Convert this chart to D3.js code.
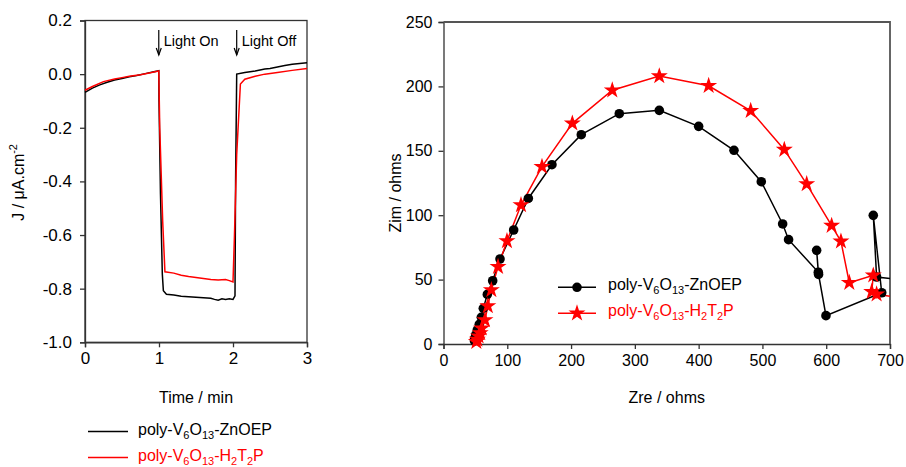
<!DOCTYPE html>
<html><head><meta charset="utf-8">
<script src="https://cdn.jsdelivr.net/npm/d3@7/dist/d3.min.js"></script>
<style>
html,body{margin:0;padding:0;background:#fff;}
svg{display:block;font-family:"Liberation Sans",Arial,sans-serif;}
</style></head>
<body>
<svg id="c" width="906" height="467"></svg>
<script>
// ---------- Left panel data (time in min, J in µA.cm-2) ----------
const timeZnOEP = [0,0.1,0.2,0.3,0.4,0.5,0.6,0.7,0.8,0.9,0.997,1.0,1.02,1.045,1.059,1.1,1.2,1.3,1.4,1.5,1.6,1.7,1.75,1.8,1.85,1.9,1.95,2.0,2.027,2.035,2.05,2.16,2.3,2.43,2.5,2.6,2.7,2.8,2.9,3.0];
const jZnOEP    = [-0.068,-0.052,-0.040,-0.030,-0.022,-0.016,-0.010,-0.005,0.001,0.007,0.013,-0.10,-0.447,-0.746,-0.808,-0.821,-0.824,-0.828,-0.830,-0.832,-0.834,-0.836,-0.840,-0.843,-0.838,-0.840,-0.838,-0.840,-0.827,-0.40,0.0,0.006,0.012,0.019,0.021,0.027,0.032,0.037,0.040,0.042];
const timeH2T2P = [0,0.1,0.25,0.4,0.5,0.6,0.75,0.9,0.997,1.01,1.05,1.08,1.2,1.3,1.4,1.5,1.6,1.7,1.8,1.9,1.95,2.0,2.02,2.05,2.1,2.16,2.3,2.43,2.6,2.8,3.0];
const jH2T2P    = [-0.060,-0.046,-0.028,-0.018,-0.013,-0.008,-0.002,0.006,0.012,-0.20,-0.55,-0.737,-0.742,-0.750,-0.755,-0.758,-0.762,-0.766,-0.768,-0.766,-0.770,-0.775,-0.60,-0.30,-0.037,-0.019,-0.008,0.0,0.006,0.014,0.021];
const leftXTicks = [0,1,2,3];
const leftYTicks = [-1.0,-0.8,-0.6,-0.4,-0.2,0.0,0.2];
const annotations = [{t:0.997,label:"Light On"},{t:2.05,label:"Light Off"}];

// ---------- Right panel data (Nyquist, ohms) ----------
const zreZnOEP = [48.6,48.9,50.5,53,56.1,59.3,62.4,68.7,77.1,88.6,110,133,170,216,275.6,338.3,400,455.4,498.2,531.7,541,587.6,585,588,599.6,687,673.8,679,730];
const zimZnOEP = [2.4,4.4,7,10.9,15.3,20.7,27.7,38.5,49.1,66,88.5,113,139.2,162.5,178.8,181.4,169,150.4,126,93.2,81,55.7,72.7,54,22,39.8,99.9,52,49];
const zreH2T2P = [51.5,53,55,57.5,59.9,65,69.5,75,85.5,99.5,121.5,154.4,202,264.6,338.3,415.7,481.6,534.3,569.4,608.5,623.1,636.2,673.8,671.3,679,730];
const zimH2T2P = [1.7,3.5,6,8.5,12.2,18.6,29.5,42,60,80,107.9,137.7,171.3,197,208,200.5,181.1,150.9,124.2,91.9,79.7,47.6,53.3,40.6,38.6,35];
const rightXTicks = [0,100,200,300,400,500,600,700];
const rightYTicks = [0,50,100,150,200,250];

const seriesNames = [
  [["poly-V",0],["6",1],["O",0],["13",1],["-ZnOEP",0]],
  [["poly-V",0],["6",1],["O",0],["13",1],["-H",0],["2",1],["T",0],["2",1],["P",0]]
];
const seriesColors = ["#000000","#ff0000"];

const svg = d3.select("#c");
const AX = "#333";

function richText(g, x, y, parts, color, size){
  const t = g.append("text").attr("x",x).attr("y",y).attr("fill",color).attr("font-size",size);
  let cur = 0;
  parts.forEach(([s,sub])=>{
    const target = sub ? 3.5 : 0;
    t.append("tspan").text(s).attr("font-size", sub? 11 : size).attr("dy", target-cur);
    cur = target;
  });
  return t;
}
function styleAxis(a, fs){
  a.select(".domain").attr("stroke",AX).attr("stroke-width",1.3);
  a.selectAll(".tick line").attr("stroke",AX).attr("stroke-width",1.3);
  a.selectAll(".tick text").attr("font-size",fs).attr("fill","#000").attr("font-family","Liberation Sans, Arial, sans-serif");
}

// ================= LEFT PANEL =================
const L = {x0:85, x1:307, y0:20.5, y1:342.3};
const lx = d3.scaleLinear().domain([0,3]).range([L.x0,L.x1]);
const ly = d3.scaleLinear().domain([-1,0.2]).range([L.y1,L.y0]);
const gl = svg.append("g");

gl.append("rect").attr("x",L.x0).attr("y",L.y0).attr("width",L.x1-L.x0).attr("height",L.y1-L.y0)
  .attr("fill","none").attr("stroke",AX).attr("stroke-width",1.3);

styleAxis(gl.append("g").attr("transform",`translate(0,${L.y1})`)
  .call(d3.axisBottom(lx).tickValues(leftXTicks).tickFormat(d3.format("d")).tickSize(5).tickPadding(5)), 17);
styleAxis(gl.append("g").attr("transform",`translate(${L.x0},0)`)
  .call(d3.axisLeft(ly).tickValues(leftYTicks).tickFormat(d=>d.toFixed(1)).tickSize(5).tickPadding(8)), 17);

const lline = d3.line().x(d=>lx(d[0])).y(d=>ly(d[1]));
const leftSeries = [d3.zip(timeZnOEP, jZnOEP), d3.zip(timeH2T2P, jH2T2P)];
leftSeries.forEach((s,i)=>{
  gl.append("path").datum(s).attr("d",lline).attr("fill","none").attr("stroke",seriesColors[i]).attr("stroke-width",1.5);
});

annotations.forEach(a=>{
  const x = lx(a.t);
  gl.append("line").attr("x1",x).attr("x2",x).attr("y1",30).attr("y2",55).attr("stroke","#000").attr("stroke-width",1.2);
  gl.append("path").attr("d",`M${x-2.5},48 L${x},55 L${x+2.5},48`).attr("fill","none").attr("stroke","#000").attr("stroke-width",1.2);
  gl.append("text").attr("x",x+5).attr("y",46).attr("font-size",14.5).attr("fill","#000").text(a.label);
});

gl.append("text").attr("x",lx(1.5)).attr("y",403).attr("text-anchor","middle").attr("font-size",16).text("Time / min");
const lyt = gl.append("text").attr("transform",`translate(24,${(L.y0+L.y1)/2+1}) rotate(-90)`).attr("text-anchor","middle").attr("font-size",16);
lyt.append("tspan").text("J / μA.cm");
lyt.append("tspan").text("-2").attr("font-size",11).attr("dy",-7);

// left legend
seriesNames.forEach((nm,i)=>{
  const y = 431.5 + i*26;
  gl.append("line").attr("x1",88).attr("x2",128).attr("y1",y).attr("y2",y).attr("stroke",seriesColors[i]).attr("stroke-width",1.5);
  richText(gl,138,y+3.5,nm,seriesColors[i],16);
});

// ================= RIGHT PANEL =================
const R = {x0:443.5, x1:890, y0:22, y1:344};
const rx = d3.scaleLinear().domain([0,700]).range([R.x0,R.x1]);
const ry = d3.scaleLinear().domain([0,250]).range([R.y1,R.y0]);
const gr = svg.append("g");

svg.append("defs").append("clipPath").attr("id","rclip")
  .append("rect").attr("x",R.x0-10).attr("y",R.y0-10).attr("width",R.x1-R.x0+10).attr("height",R.y1-R.y0+20);

styleAxis(gr.append("g").attr("transform",`translate(0,${R.y1})`)
  .call(d3.axisBottom(rx).tickValues(rightXTicks).tickFormat(d3.format("d")).tickSize(5).tickPadding(6)), 16);
styleAxis(gr.append("g").attr("transform",`translate(${R.x0},0)`)
  .call(d3.axisLeft(ry).tickValues(rightYTicks).tickFormat(d3.format("d")).tickSize(5).tickPadding(6)), 16);
gr.append("path").attr("d",`M${R.x0},${R.y0} H${R.x1} V${R.y1}`).attr("fill","none").attr("stroke","#555").attr("stroke-width",1.8);

const rdata = [d3.zip(zreZnOEP,zimZnOEP), d3.zip(zreH2T2P,zimH2T2P)];
const rline = d3.line().x(d=>rx(d[0])).y(d=>ry(d[1]));
const plot = gr.append("g").attr("clip-path","url(#rclip)");
rdata.forEach((s,i)=>{
  plot.append("path").datum(s).attr("d",rline).attr("fill","none").attr("stroke",seriesColors[i]).attr("stroke-width",1.5);
});
plot.selectAll("circle.z").data(rdata[0].filter(d=>d[0]<=700)).join("circle")
  .attr("cx",d=>rx(d[0])).attr("cy",d=>ry(d[1])).attr("r",4.8).attr("fill","#000");
const star = d3.symbol().type(d3.symbolStar).size(90);
plot.selectAll("path.s").data(rdata[1].filter(d=>d[0]<=700)).join("path")
  .attr("d",star).attr("transform",d=>`translate(${rx(d[0])},${ry(d[1])})`).attr("fill","#ff0000");

gr.append("text").attr("x",rx(350)).attr("y",403).attr("text-anchor","middle").attr("font-size",16).text("Zre / ohms");
gr.append("text").attr("transform",`translate(401,${(R.y0+R.y1)/2+10}) rotate(-90)`).attr("text-anchor","middle").attr("font-size",16).text("Zim / ohms");

// right legend
seriesNames.forEach((nm,i)=>{
  const y = 287.3 + i*26;
  gr.append("line").attr("x1",558).attr("x2",596).attr("y1",y).attr("y2",y).attr("stroke",seriesColors[i]).attr("stroke-width",1.5);
  if(i===0) gr.append("circle").attr("cx",577).attr("cy",y).attr("r",4.8).attr("fill","#000");
  else gr.append("path").attr("d",star).attr("transform",`translate(577,${y})`).attr("fill","#ff0000");
  richText(gr,608,y+3,nm,seriesColors[i],16);
});
</script>
</body></html>
